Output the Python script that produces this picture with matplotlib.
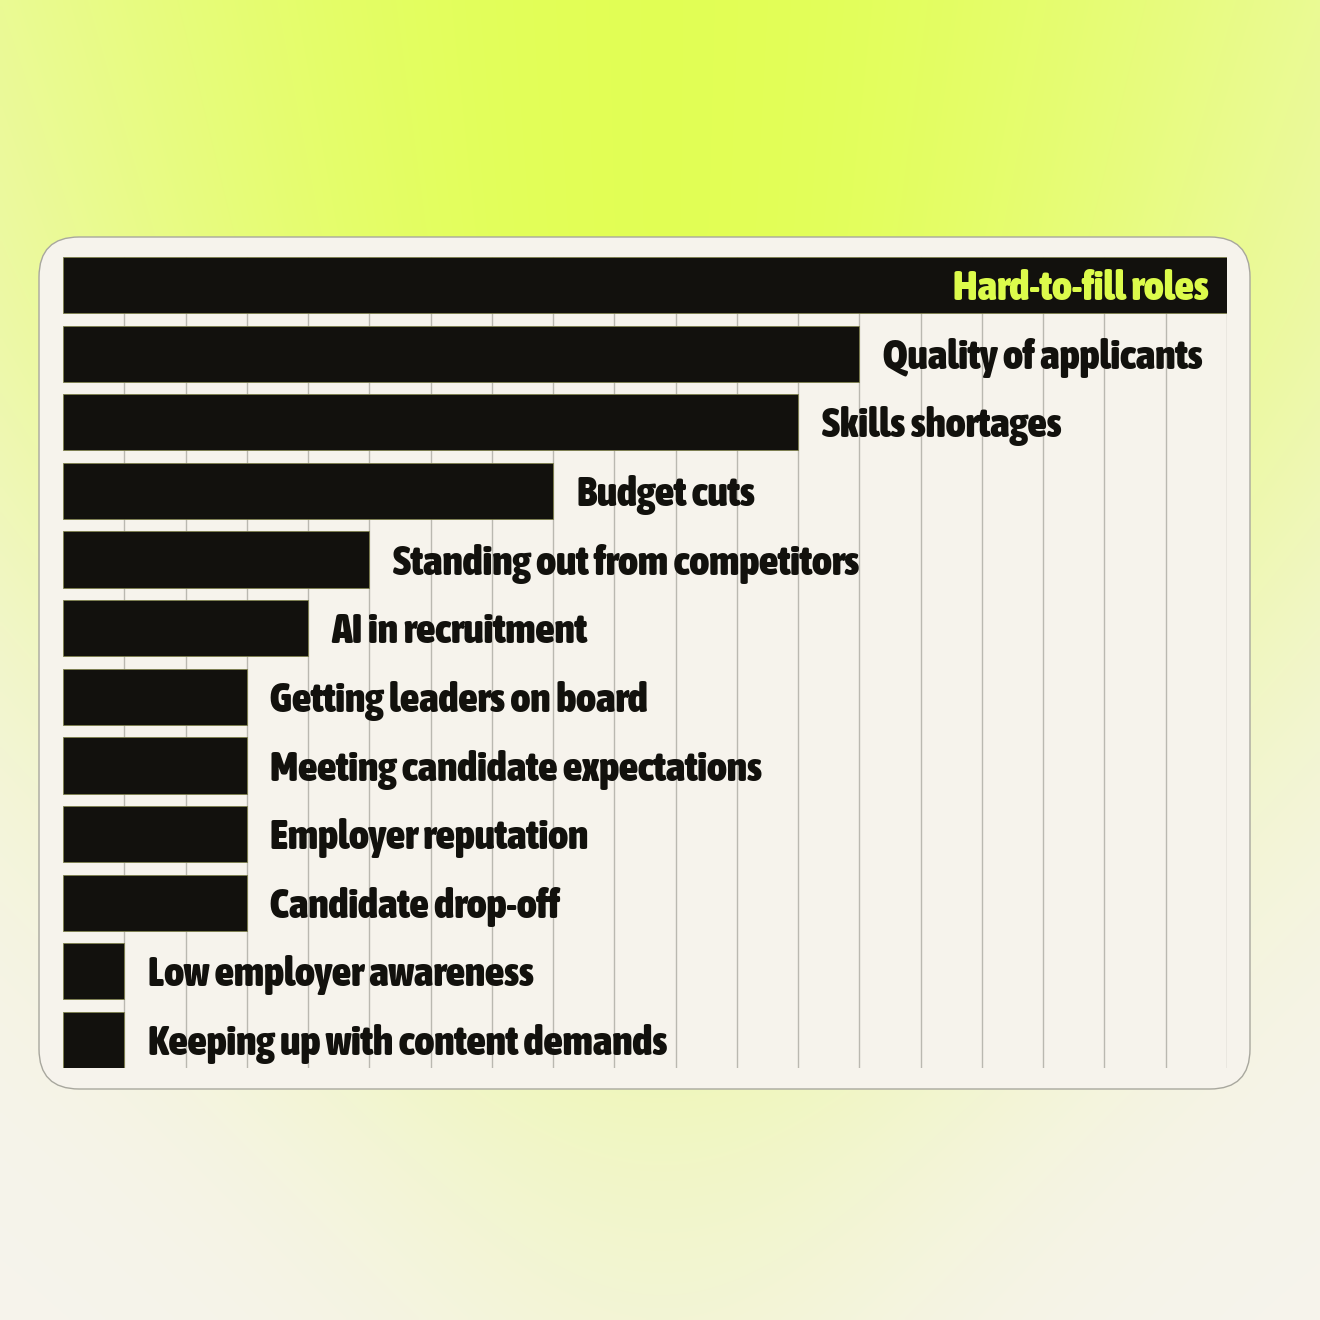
import numpy as np
import matplotlib.pyplot as plt
from matplotlib import font_manager
from matplotlib.patches import FancyBboxPatch

# data (units: 19 columns across the chart)
categories = [
    "Hard-to-fill roles",
    "Quality of applicants",
    "Skills shortages",
    "Budget cuts",
    "Standing out from competitors",
    "AI in recruitment",
    "Getting leaders on board",
    "Meeting candidate expectations",
    "Employer reputation",
    "Candidate drop-off",
    "Low employer awareness",
    "Keeping up with content demands",
]
values = [19, 13, 12, 8, 5, 4, 3, 3, 3, 3, 1, 1]

W = H = 1320
DPI = 100
LIME = np.array([0.886, 1.0, 0.333])
CREAM = np.array([0.965, 0.953, 0.925])


def pick_font():
    """Look for a bold condensed face, otherwise DejaVu Sans bold"""
    best = None
    for f in font_manager.fontManager.ttflist:
        narrow = ('condensed' in str(f.stretch).lower() or 'Narrow' in f.name
                  or 'Condensed' in f.name or 'Narrow' in f.fname or 'Condensed' in f.fname)
        w = f.weight if isinstance(f.weight, int) else 700
        if narrow and w >= 600:
            if best is None or w > best.weight:
                best = f
    if best is not None:
        return font_manager.FontProperties(fname=best.fname)
    return font_manager.FontProperties(family='DejaVu Sans', weight='bold')


FP = pick_font()

fig = plt.figure(figsize=(W / DPI, H / DPI), dpi=DPI)

# background glow
bg = fig.add_axes([0, 0, 1, 1])
bg.set_xlim(0, W)
bg.set_ylim(H, 0)
bg.axis('off')
ys, xs = np.mgrid[0:H:4, 0:W:4].astype(float)
a = 900 - 0.45 * ys
b = np.where(ys < 220, 1.0, np.exp(-((ys - 220) / 800) ** 2))
w = np.exp(-((xs - 660) / a) ** 2) * b
img = CREAM * (1 - w[..., None]) + LIME * w[..., None]
bg.imshow(img, extent=(0, W, H, 0), interpolation='bilinear', aspect='auto', zorder=0)

# card
card = FancyBboxPatch((39, 237), 1211, 852, boxstyle="round,pad=0,rounding_size=40",
                      fc='#f6f3ec', ec='#a8a79e', lw=1.0, zorder=1)
bg.add_patch(card)

# chart
x0, x1, y0, y1 = 63, 1227, 257, 1068
ax = fig.add_axes([x0 / W, (H - y1) / H, (x1 - x0) / W, (y1 - y0) / H])
ax.set_facecolor('none')
n = len(categories)
pos = np.arange(n)
ax.set_xlim(0, 19)
ax.set_ylim(n - 1 + 0.41, -0.41)
for s in ax.spines.values():
    s.set_visible(False)
ax.set_xticks([])
ax.set_yticks([])

ax.vlines(np.arange(1, 20), n - 1 + 0.41, -0.41, color='#bab8b0', lw=1.0, zorder=1)
ax.barh(pos, values, height=0.82, color='#12110d', edgecolor='#7d7f4a', lw=0.6, zorder=2)

# size the labels so the longest one is as wide as in the reference (~492 px)
renderer = fig.canvas.get_renderer()
probe = fig.text(0, 0, "Meeting candidate expectations", fontproperties=FP, fontsize=30)
width = probe.get_window_extent(renderer).width
probe.remove()
fs = min(30 * 492 / width, 32)

for i, (lab, v) in enumerate(zip(categories, values)):
    if i == 0:
        ax.annotate(lab, (v, i), xytext=(-13, -0.36 * fs), textcoords='offset points',
                    ha='right', va='baseline', fontproperties=FP, fontsize=fs,
                    color='#dcfb4b', zorder=3)
    else:
        ax.annotate(lab, (v, i), xytext=(17, -0.36 * fs), textcoords='offset points',
                    ha='left', va='baseline', fontproperties=FP, fontsize=fs,
                    color='#12110d', zorder=3)

fig.savefig('out.png', dpi=DPI)
